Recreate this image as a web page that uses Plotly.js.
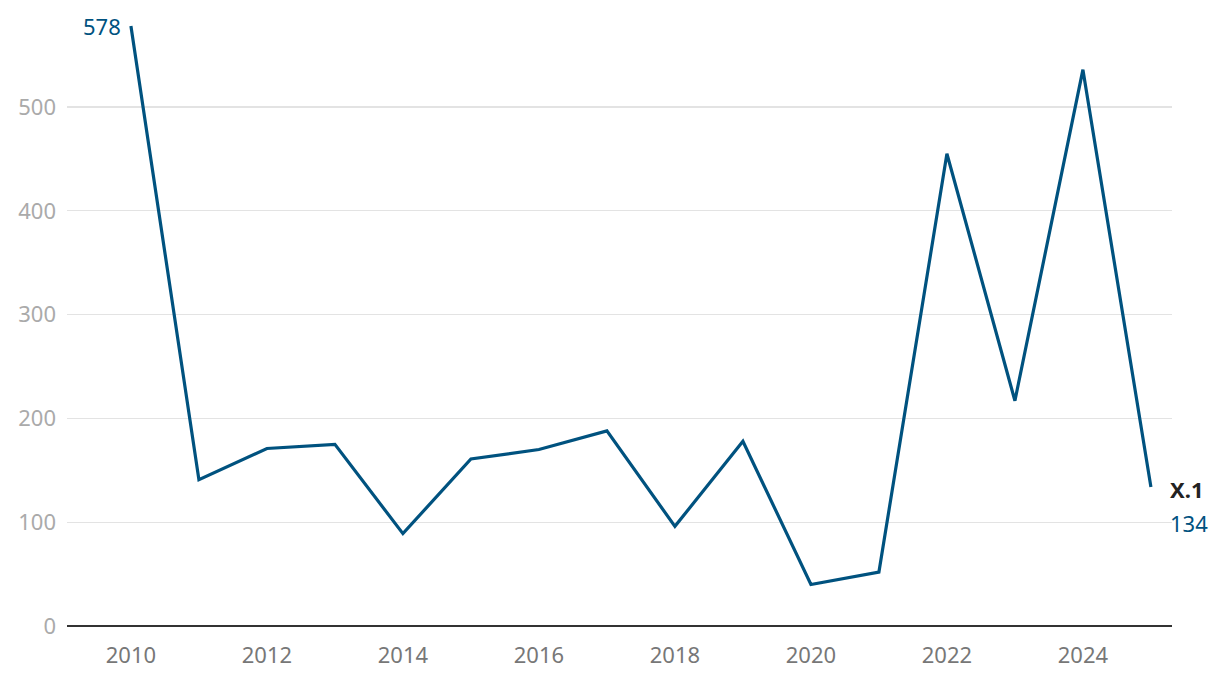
<!DOCTYPE html>
<html>
<head>
<meta charset="utf-8">
<script src="https://cdn.plot.ly/plotly-3.0.1.min.js"></script>
<style>html,body{margin:0;padding:0;background:#fff;}#chart{width:1220px;height:680px;}</style>
</head>
<body>
<div id="chart"></div>
<script>
const years = [2010,2011,2012,2013,2014,2015,2016,2017,2018,2019,2020,2021,2022,2023,2024,2025];
const values = [578,141,171,175,89,161,170,188,96,178,40,52,455,217,536,134];
const seriesName = "X.1";
const yTicks = [0,100,200,300,400,500];
const xTicks = [2010,2012,2014,2016,2018,2020,2022,2024];

const blue = "#00527f";
const font = "'Noto Sans', 'Open Sans', sans-serif";
const n = years.length;

const data = [{
  x: years, y: values, type: "scatter", mode: "lines",
  line: {color: blue, width: 3.2}, hoverinfo: "x+y", showlegend: false
}];

const layout = {
  width: 1220, height: 680,
  margin: {l: 67, r: 48, t: 24, b: 54},
  paper_bgcolor: "#fff", plot_bgcolor: "#fff",
  font: {family: font},
  xaxis: {
    range: [2009.06, 2025.31], tickvals: xTicks, ticktext: xTicks.map(String),
    showgrid: false, zeroline: false, showline: false, ticks: "",
    ticklabelstandoff: 14,
    tickfont: {size: 22, color: "#777", family: font}
  },
  yaxis: {
    range: [0, 580], tickvals: yTicks, ticktext: yTicks.map(String),
    showgrid: true, gridcolor: "#e3e3e3", gridwidth: 1.3,
    zeroline: true, zerolinecolor: "#333", zerolinewidth: 2.2,
    ticks: "", ticklabelstandoff: 10,
    tickfont: {size: 22, color: "#aaa", family: font}
  },
  annotations: [
    {x: years[0], y: values[0], xref: "x", yref: "y", text: String(values[0]),
     showarrow: false, xanchor: "right", yanchor: "middle", xshift: -8,
     font: {size: 22, color: blue, family: font}},
    {x: years[n-1], y: values[n-1], xref: "x", yref: "y", text: "<b>" + seriesName + "</b>",
     showarrow: false, xanchor: "left", yanchor: "middle", xshift: 17, yshift: -2,
     font: {size: 22, color: "#222", family: font}},
    {x: years[n-1], y: values[n-1], xref: "x", yref: "y", text: String(values[n-1]),
     showarrow: false, xanchor: "left", yanchor: "middle", xshift: 17, yshift: -36,
     font: {size: 22, color: blue, family: font}}
  ]
};

Plotly.newPlot("chart", data, layout, {displayModeBar: false, staticPlot: true});
</script>
</body>
</html>
